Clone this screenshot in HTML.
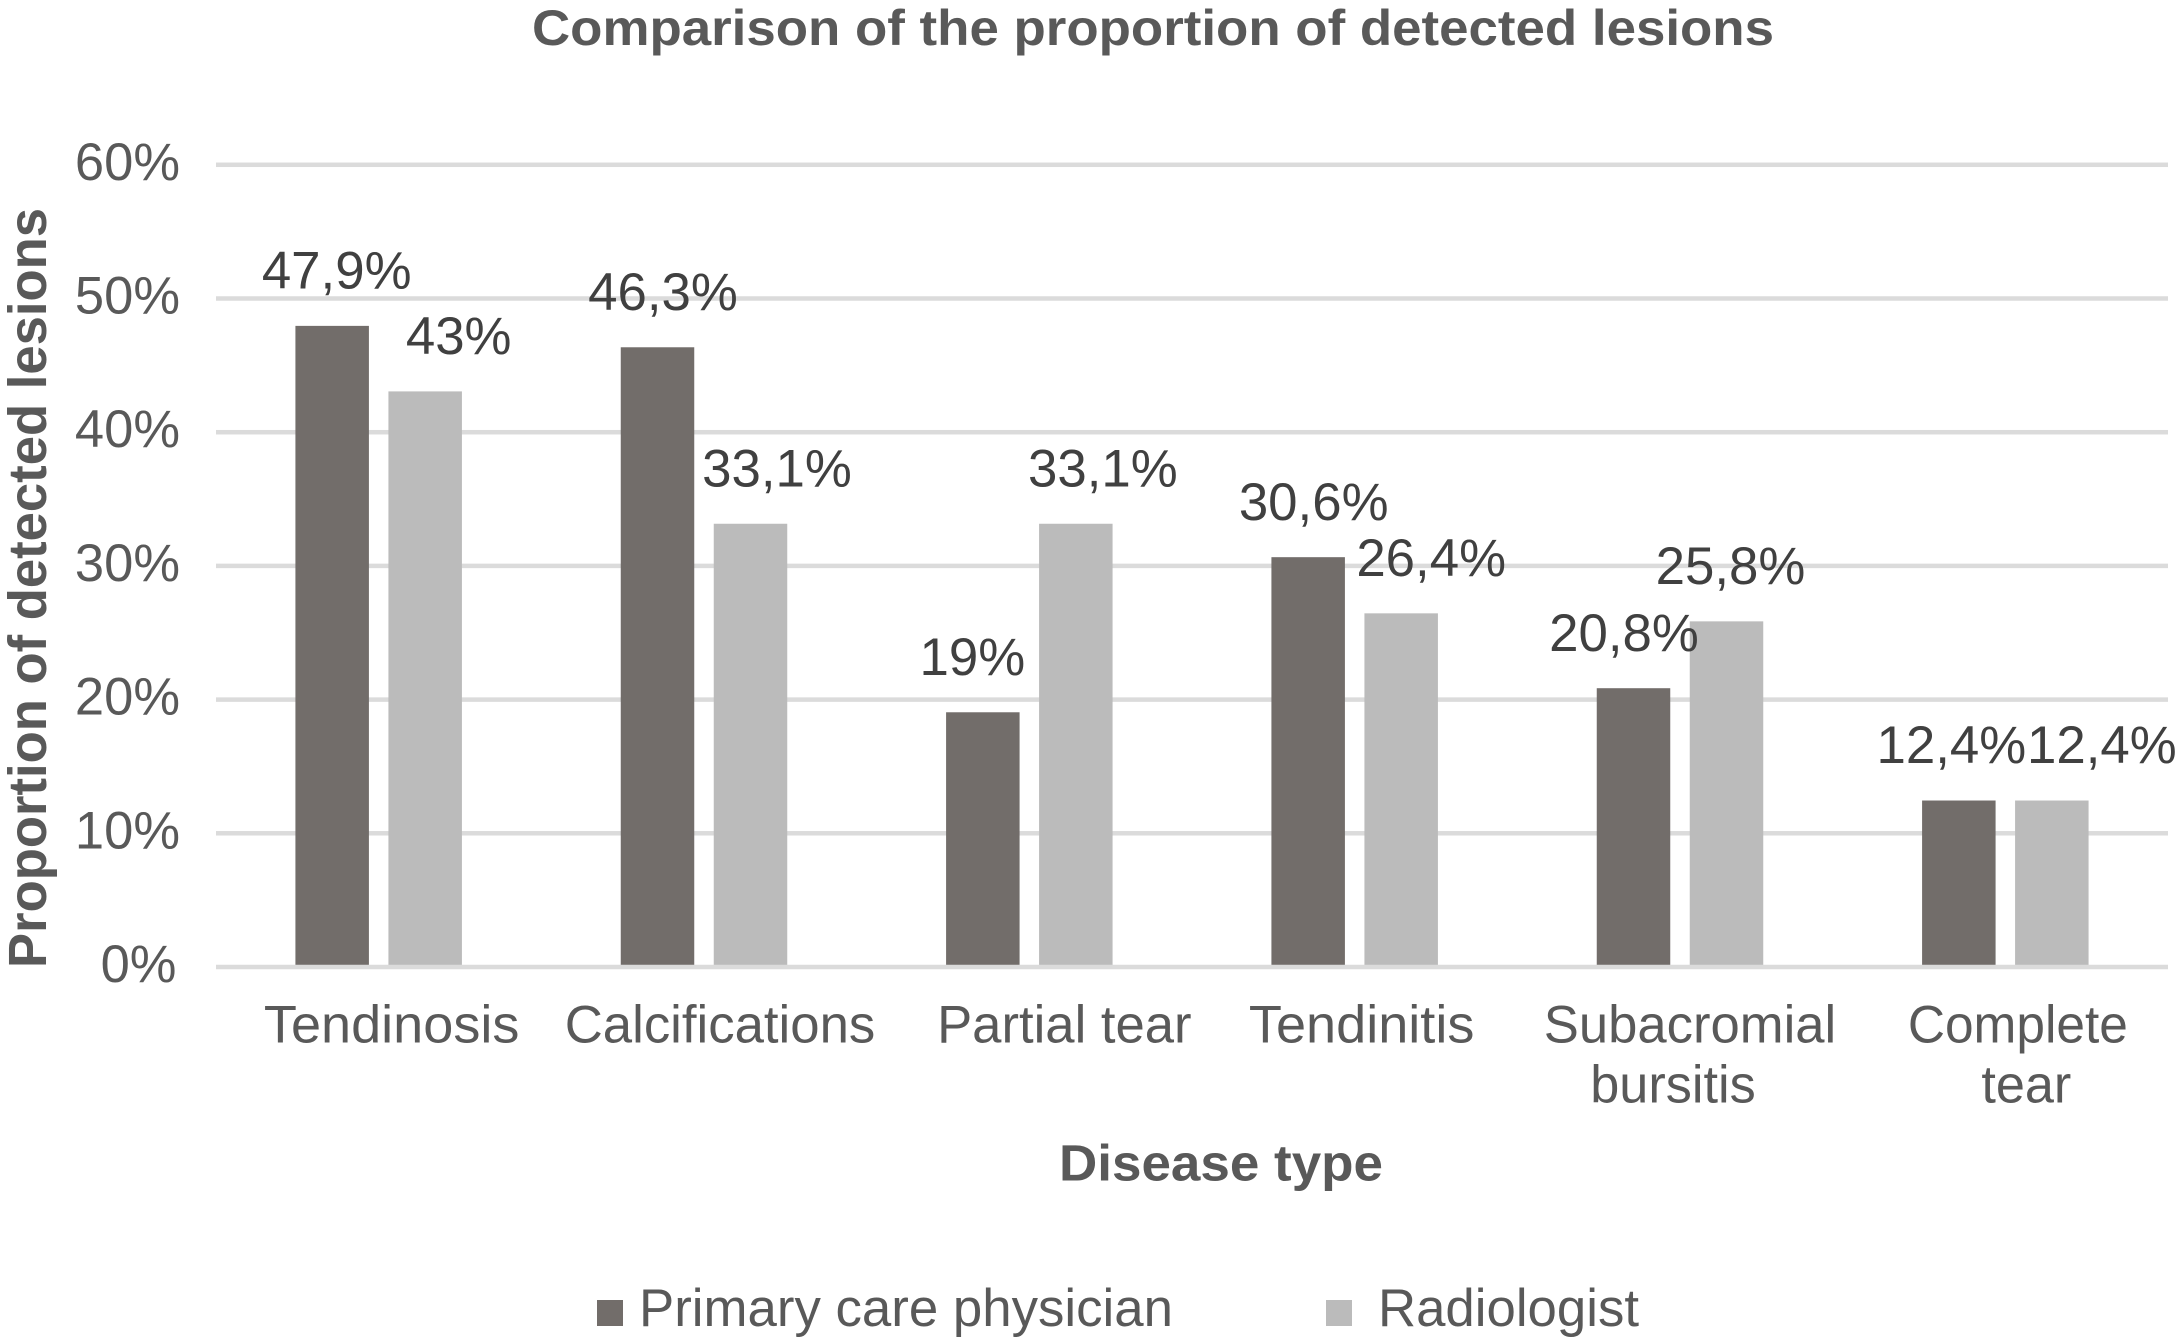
<!DOCTYPE html>
<html lang="en">
<head>
<meta charset="utf-8">
<title>Comparison of the proportion of detected lesions</title>
<style>
html,body{margin:0;padding:0;background:#fff;width:2176px;height:1343px;overflow:hidden}
svg{display:block}
text{font-family:"Liberation Sans",Arial,Helvetica,sans-serif}
</style>
</head>
<body>
<svg id="chart" xmlns="http://www.w3.org/2000/svg" width="2176" height="1343" viewBox="0 0 2176 1343">
  <rect x="0" y="0" width="2176" height="1343" fill="#ffffff"/>
  <text x="532" y="45" font-size="50" font-weight="700" fill="#595959" textLength="1242" lengthAdjust="spacingAndGlyphs">Comparison of the proportion of detected lesions</text>
  <g id="grid"></g>
  <g id="yticks"></g>
  <g id="bars"></g>
  <g id="baseline"></g>
  <g id="labels"></g>
  <g id="xticks"></g>
  <text transform="translate(46 968) rotate(-90)" x="0" y="0" font-size="54" font-weight="700" fill="#595959" textLength="760" lengthAdjust="spacingAndGlyphs">Proportion of detected lesions</text>
  <text x="1059" y="1180.5" font-size="51" font-weight="700" fill="#595959" textLength="324" lengthAdjust="spacingAndGlyphs">Disease type</text>
  <g>
    <rect x="597" y="1300" width="26" height="26" fill="#726d6a"/>
    <text x="639" y="1326" font-size="53" fill="#595959" textLength="534" lengthAdjust="spacingAndGlyphs">Primary care physician</text>
    <rect x="1326" y="1300" width="26" height="26" fill="#bbbbbb"/>
    <text x="1378" y="1326" font-size="53" fill="#595959" textLength="261" lengthAdjust="spacingAndGlyphs">Radiologist</text>
  </g>
</svg>
<script>
const categories = ["Tendinosis", "Calcifications", "Partial tear", "Tendinitis", "Subacromial bursitis", "Complete tear"];
const primaryCareValues = [47.9, 46.3, 19, 30.6, 20.8, 12.4];
const radiologistValues = [43, 33.1, 33.1, 26.4, 25.8, 12.4];
const primaryCareLabels = ["47,9%", "46,3%", "19%", "30,6%", "20,8%", "12,4%"];
const radiologistLabels = ["43%", "33,1%", "33,1%", "26,4%", "25,8%", "12,4%"];
const yTickValues = [0, 10, 20, 30, 40, 50, 60];
const yTickLabels = ["0%", "10%", "20%", "30%", "40%", "50%", "60%"];

/* manual label nudges from the source chart, relative to each bar / band centre */
const primaryLabelNudge = [4.5, 5.5, -10.5, 5.5, -9.5, -7.5];
const radiologistLabelNudge = [33.5, 26.5, 27, 30, 4, 50];
const categoryLabelNudge = [13, 16, 35, 7, 10, 12.5];
const tickLineWidths = { "Tendinosis": 255.5, "Calcifications": 310.5, "Partial tear": 254.5, "Tendinitis": 225.5, "Subacromial": 292.5, "bursitis": 165.5, "Complete": 220, "tear": 90 };

const NS = "http://www.w3.org/2000/svg";
const plotLeft = 216, plotRight = 2168, plotBottom = 967, plotTop = 164.8, yMax = 60;
const barWidth = 73.5, barGap = 19.5, barTopShift = -0.7;

function yScale(v) { return plotBottom - (v / yMax) * (plotBottom - plotTop); }
function bandCenter(i) { return plotLeft + (plotRight - plotLeft) / categories.length * (i + 0.5); }
function barX(i, s) { return bandCenter(i) - barWidth - barGap / 2 + s * (barWidth + barGap); }
function make(tag, parentId, attrs) {
  const el = document.createElementNS(NS, tag);
  Object.keys(attrs).forEach(function (k) { el.setAttribute(k, attrs[k]); });
  document.getElementById(parentId).appendChild(el);
  return el;
}
function slug(s) { return s.toLowerCase().replace(/[^a-z0-9]+/g, "-"); }

yTickValues.forEach(function (v, i) {
  const y = yScale(v);
  if (v !== 0) {
    const line = make("rect", "grid", { x: plotLeft, y: y - 2.25, width: plotRight - plotLeft, height: 4.5, fill: "#dbdbdb" });
    
    
  }
  const t = make("text", "yticks", { x: v === 0 ? 176.5 : 180, y: y + 15, "text-anchor": "end", "font-size": 52.5, fill: "#595959" });
  t.textContent = yTickLabels[i];
  
  
});

categories.forEach(function (cat, i) {
  const key = slug(cat);
  const y1 = yScale(primaryCareValues[i]);
  const y2 = yScale(radiologistValues[i]);

  const b1 = make("rect", "bars", { x: barX(i, 0), y: y1 + barTopShift, width: barWidth, height: plotBottom - y1 - barTopShift, fill: "#726d6a" });
  
  

  const b2 = make("rect", "bars", { x: barX(i, 1), y: y2 + barTopShift, width: barWidth, height: plotBottom - y2 - barTopShift, fill: "#bbbbbb" });
  
  

  const l1 = make("text", "labels", { x: barX(i, 0) + barWidth / 2 + primaryLabelNudge[i], y: y1 - 38, "text-anchor": "middle", "font-size": 52.8, fill: "#404040" });
  l1.textContent = primaryCareLabels[i];
  
  

  const l2 = make("text", "labels", { x: barX(i, 1) + barWidth / 2 + radiologistLabelNudge[i], y: y2 - 38, "text-anchor": "middle", "font-size": 52.8, fill: "#404040" });
  l2.textContent = radiologistLabels[i];
  
  

  const cx = bandCenter(i) + categoryLabelNudge[i];
  const wrap = cat === "Subacromial bursitis" || cat === "Complete tear";
  const lines = wrap ? cat.split(" ") : [cat];
  lines.forEach(function (txt, j) {
    const shift = j === 0 ? 0 : (cat === "Subacromial bursitis" ? -17 : 8.5);
    const t = make("text", "xticks", { x: cx + shift, y: 1042.5 + j * 60.2, "text-anchor": "middle", "font-size": 53, fill: "#595959", textLength: tickLineWidths[txt], lengthAdjust: "spacingAndGlyphs" });
    t.textContent = txt;
    
    
  });
});

const axisLine = make("rect", "baseline", { x: plotLeft, y: plotBottom - 2.25, width: plotRight - plotLeft, height: 4.5, fill: "#dbdbdb" });


</script>
</body>
</html>
